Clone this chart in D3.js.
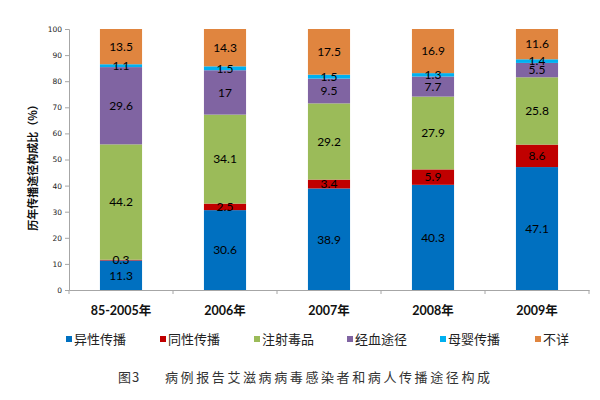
<!DOCTYPE html>
<html><head><meta charset="utf-8">
<script src="https://cdn.jsdelivr.net/npm/d3@7/dist/d3.min.js"></script>
<style>body{margin:0;background:#fff}svg{display:block}</style>
</head><body><svg id="c" width="600" height="400"></svg>
<script>
const categories = ["85-2005年","2006年","2007年","2008年","2009年"];
const seriesNames = ["异性传播","同性传播","注射毒品","经血途径","母婴传播","不详"];
const hetero = [11.3,30.6,38.9,40.3,47.1];
const homo = [0.3,2.5,3.4,5.9,8.6];
const drugs = [44.2,34.1,29.2,27.9,25.8];
const blood = [29.6,17,9.5,7.7,5.5];
const mother = [1.1,1.5,1.5,1.3,1.4];
const unknown = [13.5,14.3,17.5,16.9,11.6];
const yTicks = [0,10,20,30,40,50,60,70,80,90,100];
const colors = ["#0070C0","#C00000","#9BBB59","#8064A2","#00B0F0","#E0853F"];

const seriesValues = [hetero,homo,drugs,blood,mother,unknown];
const rows = categories.map((c,i)=>{const r={cat:c};seriesNames.forEach((s,j)=>r[s]=seriesValues[j][i]);return r;});
const stacked = d3.stack().keys(seriesNames)(rows);

const svg = d3.select("#c");
const x = d3.scaleBand().domain(categories).range([69,589]).padding(0);
const y = d3.scaleLinear().domain([0,100]).range([290,29]);
const barW = x.bandwidth()*0.405;

// bars
const g = svg.append("g");
stacked.forEach((layer,j)=>{
  g.selectAll(null).data(layer).enter().append("rect")
    .attr("x",d=>x(d.data.cat)+x.bandwidth()/2-barW/2)
    .attr("y",d=>y(d[1]))
    .attr("width",barW)
    .attr("height",d=>y(d[0])-y(d[1]))
    .attr("fill",colors[j]);
});
// labels
stacked.forEach((layer,j)=>{
  g.selectAll(null).data(layer).enter().append("text")
    .attr("x",d=>x(d.data.cat)+x.bandwidth()/2)
    .attr("y",d=>(y(d[0])+y(d[1]))/2)
    .attr("dy","0.36em")
    .attr("text-anchor","middle")
    .attr("font-family","Lato, 'Noto Sans', sans-serif")
    .attr("font-size",12)
    .attr("fill","#000")
    .text(d=>d[1]-d[0]>0?String(+(d[1]-d[0]).toFixed(1)):"");
});

// y axis
const yAxis = svg.append("g").attr("transform","translate(69,0)")
  .call(d3.axisLeft(y).tickValues(yTicks).tickSize(4).tickPadding(3));
yAxis.select(".domain").attr("stroke","#a6a6a6");
yAxis.selectAll(".tick line").attr("stroke","#a6a6a6");
yAxis.selectAll(".tick text").attr("font-family","'DejaVu Sans', sans-serif").attr("font-size",7.5).attr("fill","#222");

// x axis
const xAxis = svg.append("g").attr("transform","translate(0,290)")
  .call(d3.axisBottom(x).tickSize(0).tickPadding(0));
xAxis.select(".domain").attr("stroke","#a6a6a6");
xAxis.selectAll(".tick text").remove();
xAxis.selectAll(".tick line").remove();
const bounds = categories.map(c=>x(c)+x.bandwidth());
xAxis.selectAll(null).data([69].concat(bounds)).enter().append("line")
  .attr("x1",d=>d).attr("x2",d=>d).attr("y1",0).attr("y2",4).attr("stroke","#a6a6a6");
svg.append("g").selectAll(null).data(categories).enter().append("text")
  .attr("x",d=>x(d)+x.bandwidth()/2).attr("y",315)
  .attr("text-anchor","middle")
  .attr("font-family","Lato, 'Noto Sans CJK SC', sans-serif")
  .attr("font-weight","bold").attr("font-size",12.5).attr("fill","#111")
  .text(d=>d);

// y label
svg.append("text")
  .attr("transform","translate(37,165) rotate(-90)")
  .attr("text-anchor","middle")
  .attr("font-family","'Noto Sans CJK SC', sans-serif")
  .attr("font-weight","bold").attr("font-size",11).attr("fill","#111")
  .text("历年传播途径构成比（%）");

// legend
const lg = svg.append("g");
const lx = [66,160,254,347,440,535];
seriesNames.forEach((s,j)=>{
  lg.append("rect").attr("x",lx[j]).attr("y",336).attr("width",6).attr("height",6).attr("fill",colors[j]);
  lg.append("text").attr("x",lx[j]+8).attr("y",339).attr("dy","0.36em")
    .attr("font-family","'Noto Sans CJK SC', sans-serif").attr("font-size",13).attr("fill","#222")
    .text(s);
});

// caption
svg.append("text").attr("x",118).attr("y",382)
  .attr("font-family","'Noto Sans CJK SC', sans-serif").attr("font-size",13).attr("fill","#333")
  .attr("letter-spacing",1).text("图3");
svg.append("text").attr("x",165).attr("y",382)
  .attr("font-family","'Noto Sans CJK SC', sans-serif").attr("font-size",13).attr("fill","#333")
  .attr("letter-spacing",2.6).text("病例报告艾滋病病毒感染者和病人传播途径构成");
</script></body></html>
